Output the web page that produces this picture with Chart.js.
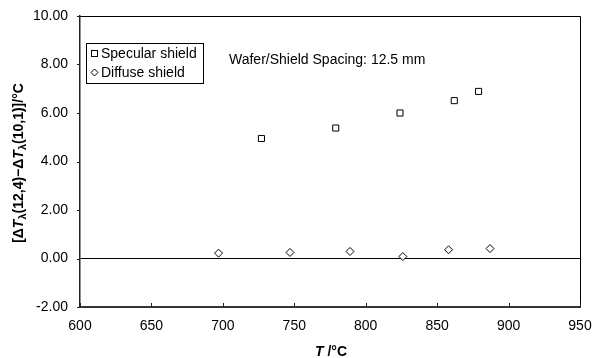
<!DOCTYPE html>
<html><head><meta charset="utf-8">
<script src="https://cdn.jsdelivr.net/npm/chart.js@4.4.1/dist/chart.umd.min.js"></script>
<style>html,body{margin:0;padding:0;background:#fff}#wrap{width:592px;height:358px}</style>
</head><body><div id="wrap"><canvas id="c" width="592" height="358"></canvas></div>
<script>
const specularT = [727, 779, 824, 862, 879];
const specularV = [4.95, 5.38, 6.00, 6.51, 6.89];
const diffuseT = [697, 747, 789, 826, 858, 887];
const diffuseV = [0.22, 0.25, 0.29, 0.08, 0.36, 0.41];
const xTicks = [600, 650, 700, 750, 800, 850, 900, 950];
const yTicks = [-2, 0, 2, 4, 6, 8, 10];
const seriesNames = ['Specular shield', 'Diffuse shield'];
const noteText = 'Wafer/Shield Spacing: 12.5 mm';

const FONT = '"Liberation Sans", Arial, sans-serif';

const decor = {
  id: 'decor',
  afterDraw(chart) {
    const {ctx, chartArea: a, scales: {x, y}} = chart;
    ctx.save();
    ctx.strokeStyle = '#000'; ctx.lineWidth = 1;
    ctx.beginPath();
    ctx.moveTo(a.left, a.top + 0.5); ctx.lineTo(a.right + 0.5, a.top + 0.5);
    ctx.lineTo(a.right + 0.5, a.bottom);
    ctx.stroke();
    ctx.strokeStyle = '#222'; ctx.lineWidth = 1;
    x.ticks.forEach(t => {
      const px = Math.round(x.getPixelForValue(t.value)) + 0.5;
      ctx.beginPath(); ctx.moveTo(px, a.bottom); ctx.lineTo(px, a.bottom - 4); ctx.stroke();
    });
    y.ticks.forEach(t => {
      const py = Math.round(y.getPixelForValue(t.value)) + 0.5;
      ctx.beginPath(); ctx.moveTo(a.left - 3, py); ctx.lineTo(a.left, py); ctx.stroke();
    });
    // legend
    ctx.strokeStyle = '#000'; ctx.lineWidth = 1;
    ctx.strokeRect(86.5, 43.5, 117, 40);
    ctx.strokeRect(91.5, 50.5, 6, 6);
    ctx.beginPath();
    ctx.moveTo(94.5, 69); ctx.lineTo(98, 72.5); ctx.lineTo(94.5, 76); ctx.lineTo(91, 72.5); ctx.closePath();
    ctx.stroke();
    ctx.fillStyle = '#000';
    ctx.font = '14px ' + FONT;
    ctx.textBaseline = 'middle'; ctx.textAlign = 'left';
    ctx.fillText(seriesNames[0], 101, 54);
    ctx.fillText(seriesNames[1], 101, 73);
    ctx.fillText(noteText, 229, 60);
    // x title
    ctx.font = 'italic bold 14px ' + FONT;
    const w1 = ctx.measureText('T').width;
    ctx.font = 'bold 14px ' + FONT;
    const w2 = ctx.measureText(' /°C').width;
    let sx = 331 - (w1 + w2) / 2;
    ctx.textBaseline = 'alphabetic';
    ctx.font = 'italic bold 14px ' + FONT;
    ctx.fillText('T', sx, 356);
    ctx.font = 'bold 14px ' + FONT;
    ctx.fillText(' /°C', sx + w1, 356);
    // y title
    const parts = [
      ['[Δ', 'bold 14px ', 0], ['T', 'italic bold 14px ', 0], ['λ', 'bold 11px ', 3],
      ['(12,4)−Δ', 'bold 14px ', 0], ['T', 'italic bold 14px ', 0], ['λ', 'bold 11px ', 3],
      ['(10,1)]/°C', 'bold 14px ', 0]
    ];
    let total = 0;
    parts.forEach(p => { ctx.font = p[1] + FONT; p.push(ctx.measureText(p[0]).width); total += p[3]; });
    ctx.translate(23, 163);
    ctx.rotate(-Math.PI / 2);
    let cx = -total / 2;
    parts.forEach(p => { ctx.font = p[1] + FONT; ctx.fillText(p[0], cx, p[2]); cx += p[3]; });
    ctx.restore();
  }
};

new Chart(document.getElementById('c'), {
  type: 'scatter',
  data: {
    datasets: [
      { label: seriesNames[0], data: specularT.map((t, i) => ({x: t, y: specularV[i]})),
        pointStyle: 'rect', pointRadius: 4.3, borderColor: '#000', backgroundColor: '#fff', borderWidth: 1 },
      { label: seriesNames[1], data: diffuseT.map((t, i) => ({x: t, y: diffuseV[i]})),
        pointStyle: 'rectRot', pointRadius: 4, borderColor: '#000', backgroundColor: '#fff', borderWidth: 1 }
    ]
  },
  options: {
    responsive: false, animation: false, devicePixelRatio: 1,
    layout: { padding: { top: 16, right: 12, left: 0, bottom: 0 } },
    plugins: { legend: { display: false }, tooltip: { enabled: false } },
    scales: {
      x: {
        type: 'linear', min: 600, max: 950,
        afterBuildTicks: s => { s.ticks = xTicks.map(v => ({value: v})); },
        afterFit: s => { s.height = 51; s.paddingLeft = 0; s.paddingRight = 0; },
        grid: { display: false, drawTicks: false },
        border: { display: true, color: '#333', width: 2 },
        ticks: { color: '#000', font: { family: FONT, size: 14 }, padding: 11, maxRotation: 0 }
      },
      y: {
        type: 'linear', min: -2, max: 10,
        afterBuildTicks: s => { s.ticks = yTicks.map(v => ({value: v})); },
        afterFit: s => { s.width = 80; s.paddingTop = 0; s.paddingBottom = 0; },
        grid: { drawTicks: false, color: c => (c.tick && c.tick.value === 0) ? '#000' : 'rgba(0,0,0,0)', lineWidth: 1 },
        border: { display: true, color: '#222', width: 1.5 },
        ticks: { color: '#000', font: { family: FONT, size: 14 }, padding: 12, callback: v => v.toFixed(2) }
      }
    }
  },
  plugins: [decor]
});
</script></body></html>
